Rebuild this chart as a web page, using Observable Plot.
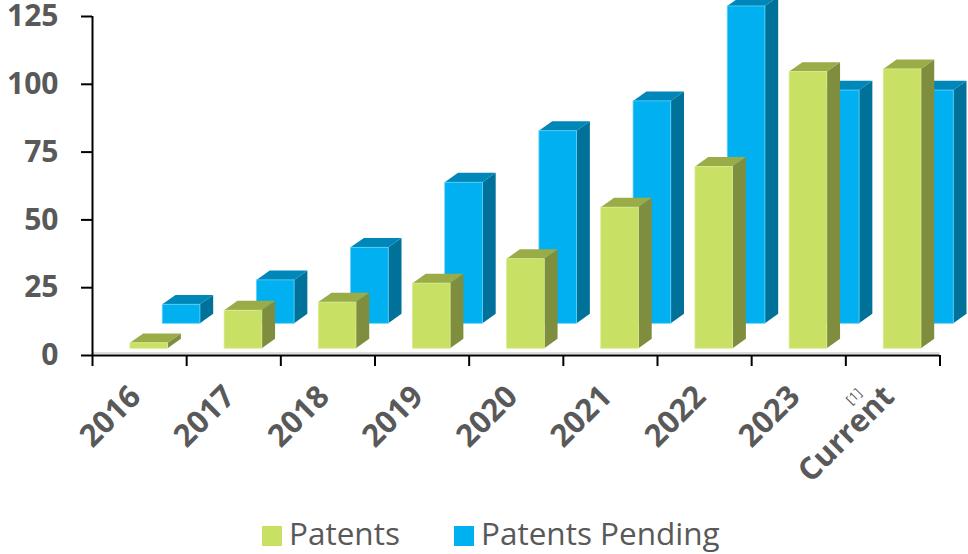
<!DOCTYPE html>
<html><head><meta charset="utf-8">
<script src="https://cdn.jsdelivr.net/npm/d3@7"></script>
<script src="https://cdn.jsdelivr.net/npm/@observablehq/plot@0.6"></script>
<style>
body{margin:0;background:#fff;font-family:"Open Sans",sans-serif;}
#wrap{position:relative;width:968px;height:554px;overflow:hidden;background:#fff}
#chart{position:absolute;left:0;top:0}
.sw{position:absolute;width:20px;height:20px}
.lt{position:absolute;font-size:31.5px;line-height:42px;color:#595959;white-space:nowrap}
</style></head><body>
<div id="wrap"><div id="chart"></div>
<div class="sw" id="sw0" style="left:262px;top:526px"></div><span class="lt" id="lt0" style="left:289px;top:512px"></span>
<div class="sw" id="sw1" style="left:454px;top:526px"></div><span class="lt" id="lt1" style="left:481px;top:512px"></span>
</div>
<script>
const categories = ["2016","2017","2018","2019","2020","2021","2022","2023","Current"];
const footnotes  = ["","","","","","","","","[1]"];
const patents    = [2, 14, 17, 24, 33, 52, 67, 102, 103];
const pending    = [7, 16, 28, 52, 71, 82, 117, 86, 86];
const yTicks     = [0, 25, 50, 75, 100, 125];
const seriesNames = ["Patents", "Patents Pending"];

const palette = {
  "Patents":         {front:"#C8E063", top:"#9AAC48", side:"#7F8E3E", edge:"#D9EC8E"},
  "Patents Pending": {front:"#00B0F0", top:"#0087B9", side:"#007299", edge:"#5FD0F7"}
};
// 3D geometry (in band units / value units)
const depthX = 0.141, depthY = 3.47, barW = 0.40;
const rows = {
  "Patents":         {off:0.403, base:2.5},
  "Patents Pending": {off:0.746, base:11.7}
};

function faces(name, values){
  const g = rows[name];
  const front = [], top = [], side = [];
  values.forEach((v,i)=>{
    const x0 = i + g.off, x1 = x0 + barW, b = g.base;
    front.push({x1:x0, x2:x1, y1:b, y2:b+v});
    top.push({z:i, y:b+v, xa:x0, xb:x1});
    top.push({z:i, y:b+v+depthY, xa:x0+depthX, xb:x1+depthX});
    side.push({z:i, x:x1, ya:b, yb:b+v});
    side.push({z:i, x:x1+depthX, ya:b+depthY, yb:b+v+depthY});
  });
  const c = palette[name];
  return [
    Plot.areaY(side, {x:"x", y1:"ya", y2:"yb", z:"z", fill:c.side}),
    Plot.areaX(top, {y:"y", x1:"xa", x2:"xb", z:"z", fill:c.top}),
    Plot.rect(front, {x1:"x1", x2:"x2", y1:"y1", y2:"y2", fill:c.front, stroke:c.edge, strokeWidth:0.8})
  ];
}

const chart = Plot.plot({
  width: 968, height: 500,
  marginTop: 16, marginLeft: 92, marginRight: 28.5, marginBottom: 145,
  x: {type:"linear", domain:[0, categories.length], range:[92, 939.5]},
  y: {type:"linear", domain:[0, 125], range:[355, 16]},
  style: {fontFamily:"'Open Sans', sans-serif", background:"transparent", overflow:"visible"},
  marks: [
    ...faces("Patents Pending", pending),
    ...faces("Patents", patents),
    Plot.ruleY([0], {x1:0, x2:categories.length, stroke:"#BBBBBB", strokeWidth:1, dy:-2.5}),
    Plot.ruleY([0], {x1:0, x2:categories.length, stroke:"#000", strokeWidth:2}),
    Plot.ruleX([0], {y1:0, y2:125, stroke:"#000", strokeWidth:2}),
    Plot.axisY(yTicks, {tickSize:11, tickPadding:23, stroke:"#000", strokeWidth:2, fill:"#595959",
      fontSize:30, fontWeight:"bold", label:null}),
    Plot.axisX(d3.range(categories.length + 1), {tickSize:11, stroke:"#000", strokeWidth:2,
      tickFormat:()=>"", label:null}),
    Plot.text(categories, {x:(d,i)=>i+0.5, frameAnchor:"bottom", dx:3, dy:43, rotate:-45, textAnchor:"end",
      fontSize:31, fontWeight:"bold", fill:"#595959"}),
    Plot.text(footnotes, {x:(d,i)=>i+0.5, frameAnchor:"bottom", dx:-36, dy:44, rotate:-45,
      fontSize:13, fill:"#595959"})
  ]
});
document.getElementById("chart").appendChild(chart);
seriesNames.forEach((n,i)=>{
  document.getElementById("sw"+i).style.background = palette[n].front;
  document.getElementById("lt"+i).textContent = n;
});
</script>
</body></html>
